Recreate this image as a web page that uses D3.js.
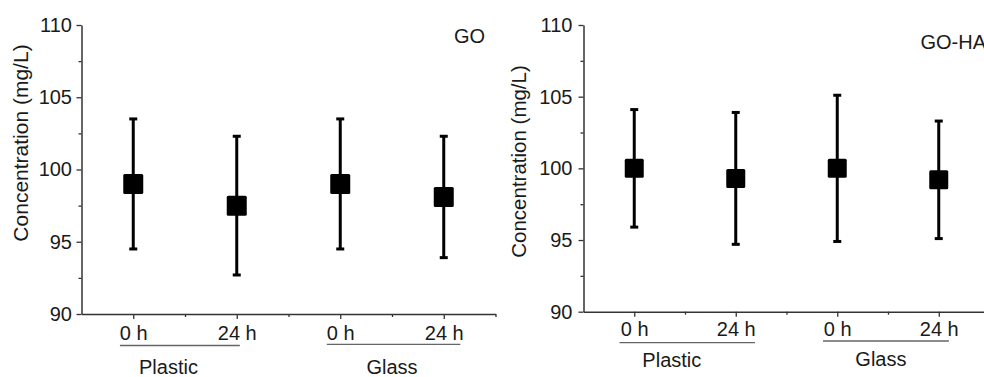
<!DOCTYPE html>
<html>
<head>
<meta charset="utf-8">
<script src="https://cdn.jsdelivr.net/npm/d3@7"></script>
<style>
  html, body { margin: 0; padding: 0; background: #fff; }
  svg { display: block; }
  text { font-family: "Liberation Sans", Arial, sans-serif; fill: #1a1a1a; }
</style>
</head>
<body>
<svg id="chart" width="984" height="377"></svg>
<script>
// ---- data ----
const categories = ["0 h", "24 h", "0 h", "24 h"];
const groups = ["Plastic", "Glass"];
const yTicks = [90, 95, 100, 105, 110];

const goMean = [99.0, 97.5, 99.0, 98.1];
const goErr  = [4.5, 4.8, 4.5, 4.2];

const goHaMean = [100.0, 99.3, 100.0, 99.2];
const goHaErr  = [4.1, 4.6, 5.1, 4.1];

const panelTitles = ["GO", "GO-HA"];
const yLabel = "Concentration (mg/L)";

// ---- layout ----
const svg = d3.select("#chart");

const panels = [
  {
    title: panelTitles[0], mean: goMean, err: goErr,
    xRange: [81.5, 495.5], yRange: [314, 25],
    titlePos: [454, 43], yLabelPos: [28, 143], yLabelSize: 21,
    tickPadX: 6.8, tickPadY: 4.5, sq: 20,
    groupLines: [[0.871, 2.03, 345.5], [2.87, 4.16, 344.3]],
    groupLabels: [[1.34, 374], [3.50, 373.5]]
  },
  {
    title: panelTitles[1], mean: goHaMean, err: goHaErr,
    xRange: [583.5, 989.5], yRange: [311.7, 25],
    titlePos: [920.5, 49.3], yLabelPos: [525.5, 161.5], yLabelSize: 20.5,
    tickPadX: 5.6, tickPadY: 6, sq: 19,
    groupLines: [[0.855, 2.19, 342.7], [2.86, 4.10, 341]],
    groupLabels: [[1.37, 366.7], [3.43, 366.2]]
  }
];

panels.forEach(p => {
  const x = d3.scaleLinear().domain([0.5, 4.5]).range(p.xRange);
  const y = d3.scaleLinear().domain([90, 110]).range(p.yRange);
  const g = svg.append("g");
  const x0 = p.xRange[0], yBase = p.yRange[0];

  // minor ticks
  const yMinor = [92.5, 97.5, 102.5, 107.5];
  const xMinor = [1.5, 2.5, 3.5, 4.5];
  g.append("g").attr("transform", `translate(${x0},0)`)
    .call(d3.axisLeft(y).tickValues(yMinor).tickSize(3).tickFormat(""))
    .call(a => a.select(".domain").remove())
    .selectAll("line").attr("stroke", "#333").attr("stroke-width", 1.3);
  g.append("g").attr("transform", `translate(0,${yBase})`)
    .call(d3.axisBottom(x).tickValues(xMinor).tickSize(3).tickFormat(""))
    .call(a => a.select(".domain").remove())
    .selectAll("line").attr("stroke", "#333").attr("stroke-width", 1.3);

  // y axis
  const ya = g.append("g").attr("transform", `translate(${x0},0)`)
    .call(d3.axisLeft(y).tickValues(yTicks).tickSize(5).tickPadding(p.tickPadY).tickSizeOuter(0));
  ya.select(".domain").attr("stroke", "#333").attr("stroke-width", 1.5);
  ya.selectAll(".tick line").attr("stroke", "#333").attr("stroke-width", 1.3);
  ya.selectAll("text").style("font-size", "20px").style("font-family", "'Liberation Sans', Arial, sans-serif").attr("fill", "#1a1a1a");

  // x axis
  const xa = g.append("g").attr("transform", `translate(0,${yBase})`)
    .call(d3.axisBottom(x).tickValues([1, 2, 3, 4]).tickSize(5).tickPadding(p.tickPadX).tickSizeOuter(0)
      .tickFormat((d, i) => categories[i]));
  xa.select(".domain").attr("stroke", "#333").attr("stroke-width", 1.5);
  xa.selectAll(".tick line").attr("stroke", "#333").attr("stroke-width", 1.3);
  xa.selectAll("text").style("font-size", "20px").style("font-family", "'Liberation Sans', Arial, sans-serif").attr("fill", "#1a1a1a");

  // group underline + labels
  p.groupLines.forEach(([a, b, yy]) => {
    g.append("line").attr("x1", x(a)).attr("x2", x(b)).attr("y1", yy).attr("y2", yy)
      .attr("stroke", "#666").attr("stroke-width", 1.3);
  });
  p.groupLabels.forEach(([v, yy], i) => {
    g.append("text").attr("x", x(v)).attr("y", yy).attr("text-anchor", "middle")
      .style("font-size", "20px").text(groups[i]);
  });

  // error bars
  const idx = d3.range(p.mean.length);
  const capW = 8;
  g.selectAll(".eb").data(idx).join("line")
    .attr("x1", i => x(i + 1)).attr("x2", i => x(i + 1))
    .attr("y1", i => y(p.mean[i] + p.err[i])).attr("y2", i => y(p.mean[i] - p.err[i]))
    .attr("stroke", "#000").attr("stroke-width", 3);
  ["+", "-"].forEach(s => {
    g.selectAll(".cap" + (s === "+" ? "t" : "b")).data(idx).join("line")
      .attr("x1", i => x(i + 1) - capW / 2).attr("x2", i => x(i + 1) + capW / 2)
      .attr("y1", i => y(s === "+" ? p.mean[i] + p.err[i] : p.mean[i] - p.err[i]))
      .attr("y2", i => y(s === "+" ? p.mean[i] + p.err[i] : p.mean[i] - p.err[i]))
      .attr("stroke", "#000").attr("stroke-width", 3);
  });

  // squares
  g.selectAll(".sq").data(idx).join("rect")
    .attr("x", i => x(i + 1) - p.sq / 2).attr("y", i => y(p.mean[i]) - p.sq / 2)
    .attr("width", p.sq).attr("height", p.sq).attr("rx", 1.5)
    .attr("fill", "#000");

  // title
  g.append("text").attr("x", p.titlePos[0]).attr("y", p.titlePos[1])
    .style("font-size", "20px").text(p.title);

  // y label
  g.append("text")
    .attr("transform", `translate(${p.yLabelPos[0]},${p.yLabelPos[1]}) rotate(-90)`)
    .attr("text-anchor", "middle")
    .style("font-size", p.yLabelSize + "px").text(yLabel);
});
</script>
</body>
</html>
